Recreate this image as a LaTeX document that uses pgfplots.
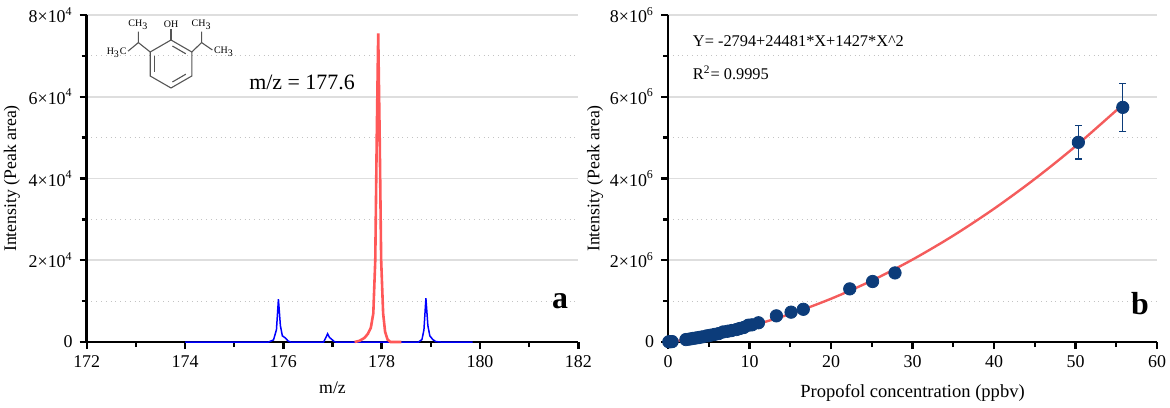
\documentclass[border=0pt]{standalone}
\usepackage{fontspec}
\setmainfont{Liberation Serif}
\usepackage{pgfplots}
\pgfplotsset{compat=1.18}
\definecolor{redpk}{RGB}{255,88,88}
\definecolor{fitred}{RGB}{244,92,92}
\definecolor{navy}{RGB}{12,60,122}
\definecolor{gmaj}{RGB}{222,222,222}
\definecolor{gmin}{RGB}{195,195,195}
\definecolor{mol}{RGB}{85,85,85}
\pgfplotsset{myax/.style={
  scale only axis, height=163.5bp,
  axis lines=left, axis line style={line width=1.3bp,-},
  tick style={black,line width=1.2bp},
  major tick length=3.5bp, minor tick length=2.5bp,
  tick align=outside,
  ymajorgrids, yminorgrids,
  major grid style={gmaj,line width=0.8bp},
  minor grid style={gmin,dotted,line width=0.6bp},
  tick label style={font=\fontsize{9}{10}\selectfont},
  /pgf/number format/assume math mode=true,
  scaled ticks=false, clip=false,
}}
\begin{document}
\begin{tikzpicture}
\path[use as bounding box] (0,0) rectangle (585bp,204bp);
% ---------- panel a ----------
\begin{axis}[myax, at={(43.35bp,33bp)}, anchor=south west, width=245.8bp,
  xmin=172, xmax=182, ymin=0, ymax=80000,
  xtick={172,174,...,182}, minor xtick={173,175,...,181},
  ytick={0,20000,40000,60000,80000},
  yticklabels={0,{2×10\textsuperscript{4}},{4×10\textsuperscript{4}},{6×10\textsuperscript{4}},{8×10\textsuperscript{4}}},
  minor ytick={10000,30000,50000,70000},
  xlabel={m/z}, ylabel={Intensity (Peak area)},
  xlabel style={font=\fontsize{8.9}{10}\selectfont, at={(axis description cs:0.5,-0.141)}, anchor=center},
  ylabel style={font=\fontsize{8.9}{10}\selectfont, at={(axis description cs:-0.152,0.5)}, anchor=center, rotate=0},
]
\addplot[blue, line width=0.75bp] coordinates {
(174.00,0) (175.70,0) (175.80,500) (175.86,3000) (175.90,10450) (175.94,4000) (175.98,1500) (176.04,1000) (176.10,200) (176.15,0)
(176.82,0) (176.87,1200) (176.90,2000) (176.94,1100) (176.98,700) (177.03,150) (177.07,0)
(178.75,0) (178.82,600) (178.86,3000) (178.90,10700) (178.94,4000) (178.98,1500) (179.04,600) (179.10,100) (179.20,0) (179.85,0)
};
\addplot[redpk, line width=1.3bp] coordinates {
(177.45,0) (177.55,300) (177.65,1000) (177.72,2000) (177.78,3500) (177.83,7000) (177.87,20000) (177.90,50000) (177.93,75500)
(177.96,50000) (177.99,20000) (178.03,7000) (178.07,2500) (178.12,600) (178.18,0) (178.40,0)
};
\node[font=\fontsize{11}{13}\selectfont] at (axis cs:176.38,63600) {m/z = 177.6};
\node[font=\bfseries\fontsize{16}{18}\selectfont] at (axis cs:181.63,9900) {a};
\end{axis}
% ---------- panel b ----------
\begin{axis}[myax, at={(334bp,33bp)}, anchor=south west, width=244.5bp,
  xmin=0, xmax=60, ymin=0, ymax=8000000,
  xtick={0,10,...,60}, minor xtick={5,15,...,55},
  ytick={0,2000000,4000000,6000000,8000000},
  yticklabels={0,{2×10\textsuperscript{6}},{4×10\textsuperscript{6}},{6×10\textsuperscript{6}},{8×10\textsuperscript{6}}},
  minor ytick={1000000,3000000,5000000,7000000},
  xlabel={Propofol concentration (ppbv)}, ylabel={Intensity (Peak area)},
  xlabel style={font=\fontsize{9.3}{11}\selectfont, at={(axis description cs:0.5,-0.156)}, anchor=center},
  ylabel style={font=\fontsize{8.9}{10}\selectfont, at={(axis description cs:-0.149,0.5)}, anchor=center, rotate=0},
]
\addplot[fitred, line width=1.2bp, smooth] coordinates {
(0,0) (2,51876) (5,155286) (10,384716) (15,685496) (20,1057626) (25,1501106) (30,2015936)
(35,2602116) (40,3259646) (45,3988526) (50,4788756) (55.8,5806410)
};
\addplot[only marks, mark=*, mark size=3.1bp, navy,
  error bars/.cd, y dir=both, y explicit,
  error bar style={line width=0.7bp,navy},
  error mark options={rotate=90,mark size=1.8bp,line width=0.7bp,navy}]
  table[x=x,y=y,y error=e] {
x y e
0.1 5000 0
0.3 8000 0
0.5 10000 0
2.2 60000 0
2.6 70000 0
3.0 85000 0
3.4 97000 0
3.8 110000 0
4.2 125000 0
4.75 150000 0
5.2 165000 0
5.7 185000 0
6.2 205000 0
6.75 245000 0
7.3 262000 0
7.8 280000 0
8.4 305000 0
8.8 330000 0
9.3 355000 0
9.85 410000 0
10.3 420000 0
11.1 470000 0
13.3 640000 0
15.1 730000 0
16.6 800000 0
22.3 1300000 0
25.1 1480000 0
27.85 1690000 0
50.35 4885000 410000
55.8 5740000 590000
};
\node[anchor=west, font=\fontsize{8.2}{10}\selectfont] at (axis cs:2.2,7350000) {Y= -2794+24481*X+1427*X\^{}2};
\node[anchor=west, font=\fontsize{8.2}{10}\selectfont] at (axis cs:2.2,6580000) {R\textsuperscript{2}= 0.9995};
\node[font=\bfseries\fontsize{16}{18}\selectfont] at (axis cs:57.9,930000) {b};
\end{axis}
% ---------- molecule (decoration) ----------
\begin{scope}[mol, line width=0.55bp]
\draw (85.5bp,184bp) -- (95.9bp,178bp) -- (95.9bp,166bp) -- (85.5bp,160bp) -- (75.1bp,166bp) -- (75.1bp,178bp) -- cycle;
\draw[shorten <=0.8bp, shorten >=0.8bp] (85.5bp,181.4bp) -- (93.6bp,176.7bp);
\draw[shorten <=0.8bp, shorten >=0.8bp] (77.4bp,167.3bp) -- (77.4bp,176.7bp);
\draw[shorten <=0.8bp, shorten >=0.8bp] (85.5bp,162.6bp) -- (93.6bp,167.3bp);
\draw (85.5bp,184bp) -- (85.5bp,189.3bp);
\draw (75.1bp,178bp) -- (69.2bp,182.7bp) -- (69.2bp,188.2bp);
\draw (69.2bp,182.7bp) -- (64bp,178.4bp);
\draw (95.9bp,178bp) -- (100.8bp,182.7bp) -- (100.8bp,188.2bp);
\draw (100.8bp,182.7bp) -- (106.2bp,179bp);
\end{scope}
\begin{scope}[font=\fontsize{5}{6}\selectfont, inner sep=0.3bp, text=black]
\node at (85.5bp,192bp) {OH};
\node at (69.2bp,191.6bp) {CH\textsubscript{3}};
\node at (100.8bp,191.6bp) {CH\textsubscript{3}};
\node[anchor=east] at (63.8bp,177.8bp) {H\textsubscript{3}C};
\node[anchor=west] at (106.5bp,178.2bp) {CH\textsubscript{3}};
\end{scope}
\end{tikzpicture}
\end{document}
